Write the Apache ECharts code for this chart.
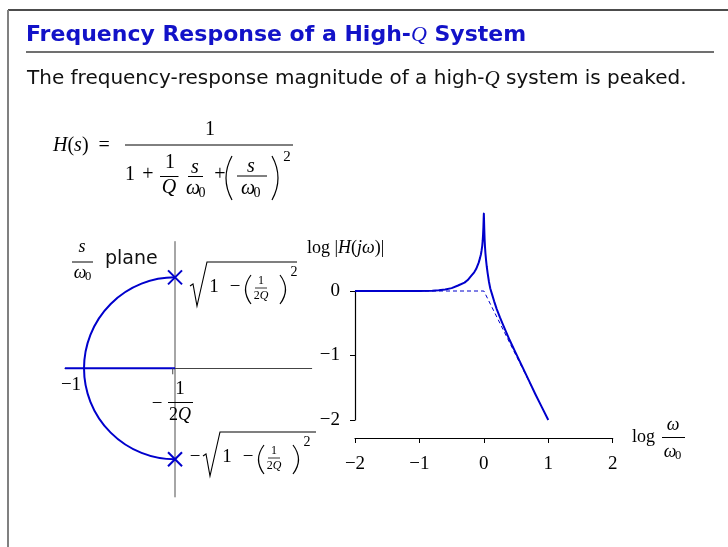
<!DOCTYPE html>
<html>
<head>
<meta charset="utf-8" />
<title>Frequency Response of a High-Q System</title>
<style>
	html, body { margin: 0; padding: 0; background: #fff; }
	#main { width: 728px; height: 547px; }
</style>
</head>
<body>
<div id="main"></div>
<script src="https://cdn.jsdelivr.net/npm/echarts@6/dist/echarts.min.js"></script>
<script>
// magnitude curve (log10 w/w0 -> log10 |H|)
const logW = [-2, -1, -0.8, -0.7, -0.6, -0.5, -0.4, -0.3, -0.25, -0.2, -0.15, -0.12, -0.1, -0.08, -0.06,
	-0.045, -0.035, -0.025, -0.018, -0.012, -0.007, -0.003, 0,
	0.003, 0.007, 0.012, 0.018, 0.025, 0.035, 0.045, 0.06, 0.08, 0.1, 0.13, 0.16, 0.2, 0.25, 0.3,
	0.4, 0.5, 0.6, 0.7, 0.8, 0.9, 1];
const logMag = [0, 0, 0.005, 0.012, 0.025, 0.045, 0.085, 0.13, 0.17, 0.23, 0.29, 0.34, 0.39, 0.44, 0.51,
	0.57, 0.63, 0.7, 0.78, 0.88, 0.99, 1.12, 1.2,
	1.1, 0.95, 0.8, 0.68, 0.58, 0.47, 0.38, 0.27, 0.14, 0.04, -0.06, -0.16, -0.28, -0.41, -0.53,
	-0.76, -0.97, -1.18, -1.39, -1.6, -1.8, -2];
// straight-line asymptotes (dashed)
const asymW = [-2, 0, 1];
const asymMag = [0, 0, -2];

// s/w0 plane
const poles = [[0, 0.999], [0, -0.999]];
const realLocus = [[-1.21, 0], [0, 0]];
const locusArc = [[0, 0, 1]]; // centre re, centre im, radius
const sigmaTick = [[-0.025, 0]];

const BLUE = '#0000cc';
const SERIF = '"Liberation Serif", "DejaVu Serif", serif';
const SANS = '"DejaVu Sans", sans-serif';

const minus = function (v) { return v < 0 ? '\u2212' + Math.abs(v) : '' + v; };

function txt(x, y, s, size, o) {
	o = o || {};
	return {
		type: 'text', x: x, y: y, z: 10,
		style: {
			text: s, fontSize: size, fontFamily: o.family || SERIF,
			fontStyle: o.italic ? 'italic' : 'normal', fontWeight: o.bold ? 'bold' : 'normal',
			fill: o.color || '#000', align: o.align || 'center', verticalAlign: 'middle'
		}
	};
}
function rtxt(x, y, s, rich, o) {
	o = o || {};
	return {
		type: 'text', x: x, y: y, z: 10,
		style: { text: s, rich: rich, align: o.align || 'left', verticalAlign: 'middle' }
	};
}
function seg(x1, y1, x2, y2, w, c) {
	return { type: 'line', z: 10, shape: { x1: x1, y1: y1, x2: x2, y2: y2 }, style: { stroke: c || '#000', lineWidth: w || 1 } };
}
function paren(x, top, bot, dx) {
	return {
		type: 'bezierCurve', z: 10,
		shape: { x1: x, y1: top, x2: x, y2: bot, cpx1: x + dx, cpy1: (top + bot) / 2 },
		style: { stroke: '#000', lineWidth: 1.2, fill: null }
	};
}
function omega0(x, y, size) {
	return [txt(x, y, '\u03c9', size, { italic: true }), txt(x + size * 0.45, y + 4, '0', size * 0.7)];
}
function sqrtLabel(x0, yc, w) {
	return [
		{
			type: 'polyline', z: 10,
			shape: { points: [[x0, yc - 1], [x0 + 3, yc - 3], [x0 + 7, yc + 19], [x0 + 17, yc - 25], [x0 + w, yc - 25]] },
			style: { stroke: '#000', lineWidth: 1.1, fill: null }
		},
		txt(x0 + 24, yc, '1', 19),
		txt(x0 + 45, yc, '\u2212', 19),
		paren(x0 + 61, yc - 12, yc + 17, -11),
		txt(x0 + 71, yc - 6, '1', 12),
		seg(x0 + 65, yc + 1, x0 + 77, yc + 1, 0.8),
		rtxt(x0 + 71, yc + 9, '{r|2}{i|Q}', {
			r: { fontSize: 12, fontFamily: SERIF }, i: { fontSize: 12, fontFamily: SERIF, fontStyle: 'italic' }
		}, { align: 'center' }),
		paren(x0 + 90, yc - 12, yc + 17, 11),
		txt(x0 + 104, yc - 15, '2', 14)
	];
}

const richMath = {
	r: { fontSize: 20, fontFamily: SERIF, fill: '#000' },
	i: { fontSize: 20, fontFamily: SERIF, fontStyle: 'italic', fill: '#000' }
};
const richAxis = {
	r: { fontSize: 18, fontFamily: SERIF, fill: '#000' },
	i: { fontSize: 18, fontFamily: SERIF, fontStyle: 'italic', fill: '#000' }
};

const graphics = [].concat(
	// frame + title
	[seg(8, 10, 728, 10, 1.5, '#111'), seg(8, 10, 8, 547, 2, '#808080'), seg(26, 52, 714, 52, 2, '#707070')],
	[rtxt(26, 35, '{b|Frequency Response of a High-}{q|Q}{b| System}', {
		b: { fontSize: 22, fontFamily: SANS, fontWeight: 'bold', fill: '#1212c8' },
		q: { fontSize: 22, fontFamily: SERIF, fontStyle: 'italic', fill: '#1212c8' }
	})],
	[rtxt(27, 79, '{n|The frequency-response magnitude of a high-}{q|Q}{n| system is peaked.}', {
		n: { fontSize: 20, fontFamily: SANS, fill: '#111' },
		q: { fontSize: 21, fontFamily: SERIF, fontStyle: 'italic', fill: '#111' }
	})],
	// H(s) formula
	[rtxt(53, 146, '{i|H}{r|(}{i|s}{r|)  =}', richMath),
	seg(125, 145, 293, 145, 1),
	txt(210, 130, '1', 20),
	txt(130, 175, '1', 20),
	txt(148, 175, '+', 20),
	txt(170, 163, '1', 20),
	seg(160, 176.5, 178.5, 176.5, 1),
	txt(169, 188, 'Q', 20, { italic: true }),
	txt(195, 168, 's', 20, { italic: true }),
	seg(188, 176.5, 203, 176.5, 1)],
	omega0(193, 189, 20),
	[txt(220, 175, '+', 20),
	paren(232, 156, 200, -12),
	txt(251, 167, 's', 20, { italic: true }),
	seg(237, 176, 267, 176, 1)],
	omega0(248, 189, 20),
	[paren(272, 156, 200, 12),
	txt(287, 157, '2', 15)],
	// s-plane labels
	[txt(82, 247, 's', 18, { italic: true }), seg(72, 262, 93, 262, 1)],
	omega0(80, 273, 18),
	[txt(105, 259, 'plane', 19, { family: SANS, align: 'left', color: '#111' }),
	txt(71, 385, '\u22121', 19),
	txt(157, 404, '\u2212', 19),
	txt(180, 389, '1', 19),
	seg(168, 402.5, 193, 402.5, 1),
	rtxt(180, 415, '{r|2}{i|Q}', richAxis, { align: 'center' })],
	sqrtLabel(190, 287, 107),
	[txt(195, 457, '\u2212', 19)],
	sqrtLabel(203, 457, 113),
	// axis titles of magnitude plot
	[rtxt(307, 248, '{r|log |}{i|H}{r|(}{i|j\u03c9}{r|)|}', richAxis),
	txt(632, 437, 'log', 18, { align: 'left' }),
	txt(673, 425, '\u03c9', 18, { italic: true }),
	seg(662, 437.5, 685, 437.5, 1)],
	omega0(670, 452, 18)
);

const chart = echarts.init(document.getElementById('main'));

const hidden = { show: false };
const option = {
	animation: false,
	backgroundColor: '#fff',
	grid: [
		{ left: 355, width: 257.7, top: 210.4, height: 209.6 },   // curve
		{ left: 355, width: 257.7, top: 291, height: 129 },       // y axis
		{ left: 355, width: 257.7, top: 437, height: 1 },         // x axis
		{ left: 65, width: 246.7, top: 241.7, height: 255 }       // s plane
	],
	xAxis: [
		{ type: 'value', gridIndex: 0, min: -2, max: 2, show: false },
		{ type: 'value', gridIndex: 1, min: -2, max: 2, show: false },
		{
			type: 'value', gridIndex: 2, min: -2, max: 2, interval: 1, position: 'bottom',
			axisLine: { onZero: false, lineStyle: { color: '#000', width: 1.2 } },
			axisTick: { show: true, length: 5, lineStyle: { color: '#000', width: 1 } },
			axisLabel: { color: '#000', fontSize: 19, fontFamily: SERIF, margin: 17, formatter: minus },
			splitLine: hidden
		},
		{
			type: 'value', gridIndex: 3, min: -1.209, max: 1.502,
			axisLine: { onZero: true, lineStyle: { color: '#444', width: 1 } },
			axisTick: hidden, axisLabel: hidden, splitLine: hidden
		}
	],
	yAxis: [
		{ type: 'value', gridIndex: 0, min: -2, max: 1.25, show: false },
		{
			type: 'value', gridIndex: 1, min: -2, max: 0, interval: 1,
			axisLine: { show: true, onZero: false, lineStyle: { color: '#000', width: 1.2 } },
			axisTick: { show: true, length: 5, lineStyle: { color: '#000', width: 1 } },
			axisLabel: { color: '#000', fontSize: 19, fontFamily: SERIF, margin: 15, formatter: minus },
			splitLine: hidden
		},
		{ type: 'value', gridIndex: 2, min: 0, max: 1, show: false },
		{
			type: 'value', gridIndex: 3, min: -1.411, max: 1.391,
			axisLine: { show: true, onZero: true, lineStyle: { color: '#888', width: 1.5 } },
			axisTick: hidden, axisLabel: hidden, splitLine: hidden
		}
	],
	series: [
		{
			type: 'line', xAxisIndex: 0, yAxisIndex: 0, z: 2,
			data: asymW.map(function (w, i) { return [w, asymMag[i]]; }),
			showSymbol: false, lineStyle: { color: BLUE, width: 1, type: [4, 3] }
		},
		{
			type: 'line', xAxisIndex: 0, yAxisIndex: 0, z: 3,
			data: logW.map(function (w, i) { return [w, logMag[i]]; }),
			showSymbol: false, smooth: false,
			lineStyle: { color: BLUE, width: 2, join: 'round' }
		},
		{
			type: 'line', xAxisIndex: 3, yAxisIndex: 3, z: 3,
			data: realLocus, showSymbol: false, lineStyle: { color: BLUE, width: 2 }
		},
		{
			type: 'custom', xAxisIndex: 3, yAxisIndex: 3, z: 3, data: locusArc,
			renderItem: function (params, api) {
				const c = api.coord([api.value(0), api.value(1)]);
				const r = api.size([api.value(2), 0])[0];
				return {
					type: 'arc',
					shape: { cx: c[0], cy: c[1], r: r, startAngle: Math.PI / 2, endAngle: Math.PI * 1.5, clockwise: true },
					style: { stroke: BLUE, lineWidth: 2, fill: null }
				};
			}
		},
		{
			type: 'custom', xAxisIndex: 3, yAxisIndex: 3, z: 4, data: poles,
			renderItem: function (params, api) {
				const p = api.coord([api.value(0), api.value(1)]);
				const h = 7;
				const st = { stroke: BLUE, lineWidth: 2 };
				return {
					type: 'group', children: [
						{ type: 'line', shape: { x1: p[0] - h, y1: p[1] - h, x2: p[0] + h, y2: p[1] + h }, style: st },
						{ type: 'line', shape: { x1: p[0] - h, y1: p[1] + h, x2: p[0] + h, y2: p[1] - h }, style: st }
					]
				};
			}
		},
		{
			type: 'custom', xAxisIndex: 3, yAxisIndex: 3, z: 4, data: sigmaTick,
			renderItem: function (params, api) {
				const p = api.coord([api.value(0), api.value(1)]);
				return { type: 'line', shape: { x1: p[0], y1: p[1], x2: p[0], y2: p[1] + 6 }, style: { stroke: '#444', lineWidth: 1 } };
			}
		}
	],
	graphic: graphics
};

chart.setOption(option);
window.onresize = function () { chart.resize(); };
</script>
</body>
</html>
